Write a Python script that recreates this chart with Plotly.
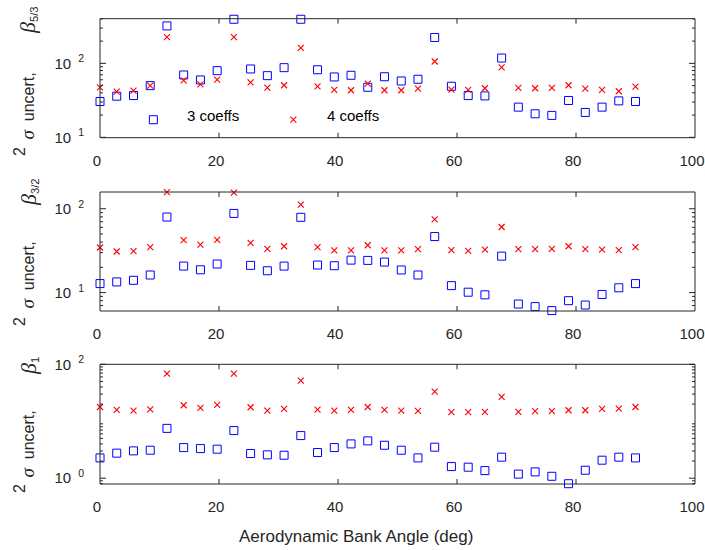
import math
import plotly.graph_objects as go

# Aerodynamic bank angle samples (deg)
angles = [0.0, 2.81, 5.63, 8.44, 11.25, 14.06, 16.88, 19.69, 22.5, 25.31, 28.13,
          30.94, 33.75, 36.56, 39.38, 42.19, 45.0, 47.81, 50.63, 53.44, 56.25,
          59.06, 61.88, 64.69, 67.5, 70.31, 73.13, 75.94, 78.75, 81.56, 84.38,
          87.19, 90.0]

# beta_{5/3}: 2-sigma uncertainty
b53_sq = [30.5, 36, 36.7, 50, 321, 69.7, 59.7, 79.7, 395, 84, 68.2, 87.5, 395,
          82, 65.5, 69, 47.5, 66, 57.8, 61, 224, 49, 36.7, 36.3, 118, 25.6,
          20.8, 19.8, 31.5, 21.7, 25.6, 31.1, 30.5]
b53_x = [47.5, 41.6, 42.9, 50, 226, 59, 52, 60.3, 226, 55.5, 47, 50.6, 162,
         49, 43.8, 43.3, 53.3, 43.3, 43.3, 45.6, 106, 44.2, 43.8, 46.1, 88.3,
         46.6, 46.1, 46.6, 50.6, 45.6, 43.8, 42, 48.5]
b53_sq_extra_angle = [8.97]
b53_sq_extra = [17.3]
b53_x_extra_angle = [32.5]
b53_x_extra = [17.3]

# beta_{3/2}: 2-sigma uncertainty
b32_sq = [12.8, 13.4, 14, 16.2, 79.7, 20.7, 18.7, 21.9, 88, 21.1, 18.2, 20.7,
          79, 21.3, 20.9, 24.4, 24.2, 23.1, 18.6, 16.2, 46.6, 12.1, 10.1, 9.4,
          27.2, 7.3, 6.8, 6.1, 8.0, 7.1, 9.5, 11.4, 12.8]
b32_x = [34.5, 30.9, 31.2, 34.8, 158, 42.2, 37.4, 42.5, 156, 39.2, 33.2, 35.7,
         112, 34.8, 31.8, 31.8, 36.7, 31.8, 31.8, 33, 74.8, 32.1, 31.5, 32.6,
         60.6, 33, 33, 33.2, 35.7, 33, 32.6, 32.1, 34.8]

# beta_1: 2-sigma uncertainty
b1_sq = [2.27, 2.75, 3.02, 3.1, 7.5, 3.45, 3.31, 3.23, 6.86, 2.71, 2.57, 2.53,
         5.6, 2.82, 3.45, 4.0, 4.52, 3.79, 3.1, 2.27, 3.5, 1.6, 1.56, 1.36,
         2.34, 1.18, 1.29, 1.08, 0.80, 1.38, 2.07, 2.34, 2.27]
b1_x = [17.8, 15.8, 15.4, 16.2, 68.6, 19.1, 17.1, 19.3, 68.6, 17.6, 15.4, 16.5,
        51.7, 16, 15.4, 15.8, 17.8, 15.8, 15.4, 15.2, 33.1, 14.4, 14.4, 14.6,
        26.7, 14.6, 15, 15, 15.6, 15.6, 16.5, 16.7, 17.8]

x_ticks = [0, 20, 40, 60, 80, 100]
x_range = [0, 100]
panel_labels = ["5/3", "3/2", "1"]
y_major = [[10, 100], [10, 100], [1, 100]]
y_major_text = [["10\u00a0<sup>\u00a01</sup>", "10\u00a0<sup>\u00a02</sup>"],
                ["10\u00a0<sup>\u00a01</sup>", "10\u00a0<sup>\u00a02</sup>"],
                ["10\u00a0<sup>\u00a00</sup>", "10\u00a0<sup>\u00a02</sup>"]]
y_ranges = [[0.995, 2.604], [0.780, 2.2], [-0.102, 2.0]]
text_notes = [("3 coeffs", 14.3, 20), ("4 coeffs", 37.8, 20)]

W, H = 705, 550
X0, X1 = 100, 695
panels_px = [(18.7, 137.7), (192.0, 311.0), (364.3, 484.0)]
# label piece positions (px): bottom of sigma, centre of "2", bottom of beta
label_px = [(142, 152, 36), (311, 322, 208), (480, 489, 377)]

AX = "#262626"
CLEAR = "rgba(0,0,0,0)"
FONT = "Liberation Sans, Arial, sans-serif"
SERIF = "Liberation Serif, Times New Roman, serif"
MAJOR_LEN, MINOR_LEN, XTICK_LEN = 6, 3, 5


def minor_vals(lo, hi):
    vals = []
    for dec in [0.1, 1, 10, 100]:
        for m in range(2, 10):
            v = m * dec
            if 10 ** lo <= v <= 10 ** hi:
                vals.append(v)
    return vals


fig = go.Figure()

series = [
    (b53_sq, b53_x),
    (b32_sq, b32_x),
    (b1_sq, b1_x),
]

sq_style = dict(symbol="square-open", size=8, color="#0000ff",
                line=dict(width=1, color="#0000ff"))
x_style = dict(symbol="x-thin-open", size=6, color="#ff0000",
               line=dict(width=1.1, color="#ff0000"))

for i, (sq, xx) in enumerate(series):
    xa = "x" if i == 0 else f"x{i + 1}"
    ya = "y" if i == 0 else f"y{i + 1}"
    sq_x, sq_y = list(angles), list(sq)
    xx_x, xx_y = list(angles), list(xx)
    if i == 0:
        sq_x += b53_sq_extra_angle
        sq_y += b53_sq_extra
        xx_x += b53_x_extra_angle
        xx_y += b53_x_extra
    fig.add_trace(go.Scatter(x=sq_x, y=sq_y, mode="markers", marker=sq_style,
                             xaxis=xa, yaxis=ya, cliponaxis=False,
                             showlegend=False))
    fig.add_trace(go.Scatter(x=xx_x, y=xx_y, mode="markers", marker=x_style,
                             xaxis=xa, yaxis=ya, cliponaxis=False,
                             showlegend=False))

layout = dict(
    template="none",
    width=W, height=H, autosize=False,
    margin=dict(l=0, r=0, t=0, b=0, pad=0, autoexpand=False),
    paper_bgcolor="white", plot_bgcolor="white",
    font=dict(family=FONT, size=15, color=AX),
    showlegend=False,
)

annotations = []
shapes = []


def tick_line(xr, yr, x0, x1, y0, y1):
    return dict(type="line", xref=xr + " domain", yref=yr + " domain",
                x0=x0, x1=x1, y0=y0, y1=y1,
                line=dict(color=AX, width=1), layer="above")


for i in range(3):
    top, bot = panels_px[i]
    ph, pw = bot - top, X1 - X0
    sfx = "" if i == 0 else str(i + 1)
    xr, yr = "x" + sfx, "y" + sfx
    lo, hi = y_ranges[i]
    # transparent outside ticks only set the label offset from the frame
    layout["xaxis" + sfx] = dict(
        domain=[X0 / W, X1 / W], range=x_range, anchor=yr,
        tickvals=x_ticks, ticktext=[str(v) for v in x_ticks],
        ticks="outside", ticklen=9, tickcolor=CLEAR,
        showline=False, showgrid=False, zeroline=False,
        automargin=False, ticklabeloverflow="allow", ticklabelshift=-3,
        tickfont=dict(size=15, color=AX),
    )
    layout["yaxis" + sfx] = dict(
        domain=[1 - bot / H, 1 - top / H], type="log", range=[lo, hi],
        anchor=xr, tickvals=y_major[i], ticktext=y_major_text[i],
        ticks="outside", ticklen=12, tickcolor=CLEAR,
        showline=False, showgrid=False, zeroline=False,
        automargin=False, ticklabeloverflow="allow",
        tickfont=dict(size=15, color=AX),
    )
    # panel frame
    shapes.append(dict(
        type="rect", xref=xr + " domain", yref=yr + " domain",
        x0=0, x1=1, y0=0, y1=1, line=dict(color=AX, width=1),
        fillcolor=CLEAR, layer="above",
    ))
    # inward tick marks on all four sides, placed in axis-domain fractions
    for v in x_ticks[1:-1]:
        fx = (v - x_range[0]) / (x_range[1] - x_range[0])
        shapes.append(tick_line(xr, yr, fx, fx, 0, XTICK_LEN / ph))
        shapes.append(tick_line(xr, yr, fx, fx, 1, 1 - XTICK_LEN / ph))
    for vals, ln in ((y_major[i], MAJOR_LEN), (minor_vals(lo, hi), MINOR_LEN)):
        for v in vals:
            fy = (math.log10(v) - lo) / (hi - lo)
            if 0 <= fy <= 1:
                shapes.append(tick_line(xr, yr, 0, ln / pw, fy, fy))
                shapes.append(tick_line(xr, yr, 1, 1 - ln / pw, fy, fy))

    sig_b, two_c, beta_b = label_px[i]
    # rotated y label pieces: "2", "sigma uncert,", "beta_k"
    annotations.append(dict(
        text="2", textangle=-90, xref="paper", yref="paper",
        x=19 / W, y=1 - two_c / H, xanchor="center", yanchor="middle",
        showarrow=False, font=dict(family=FONT, size=16, color=AX),
    ))
    annotations.append(dict(
        text=("<span style='font-family:" + SERIF + ";font-size:19px'>"
              "<i>σ</i></span>\u00a0\u00a0uncert,"),
        textangle=-90, xref="paper", yref="paper",
        x=27 / W, y=1 - sig_b / H, xanchor="center", yanchor="bottom",
        showarrow=False, font=dict(family=FONT, size=16, color=AX),
    ))
    annotations.append(dict(
        text=("<span style='font-family:" + SERIF + ";font-size:22px'>"
              "<i>β</i></span><sub>" + panel_labels[i] + "</sub>"),
        textangle=-90, xref="paper", yref="paper",
        x=28 / W, y=1 - beta_b / H, xanchor="center", yanchor="bottom",
        showarrow=False, font=dict(family=FONT, size=16, color=AX),
    ))

for txt, xv, yv in text_notes:
    annotations.append(dict(
        text=txt, x=xv, y=math.log10(yv), xref="x", yref="y",
        xanchor="left", yanchor="middle", showarrow=False,
        font=dict(family=FONT, size=15, color="#000000"),
    ))

annotations.append(dict(
    text="Aerodynamic Bank Angle (deg)", xref="paper", yref="paper",
    x=356 / W, y=1 - 536 / H, xanchor="center", yanchor="middle",
    showarrow=False, font=dict(family=FONT, size=17, color=AX),
))

layout["annotations"] = annotations
layout["shapes"] = shapes
fig.update_layout(**layout)

fig.write_html("out.html")
